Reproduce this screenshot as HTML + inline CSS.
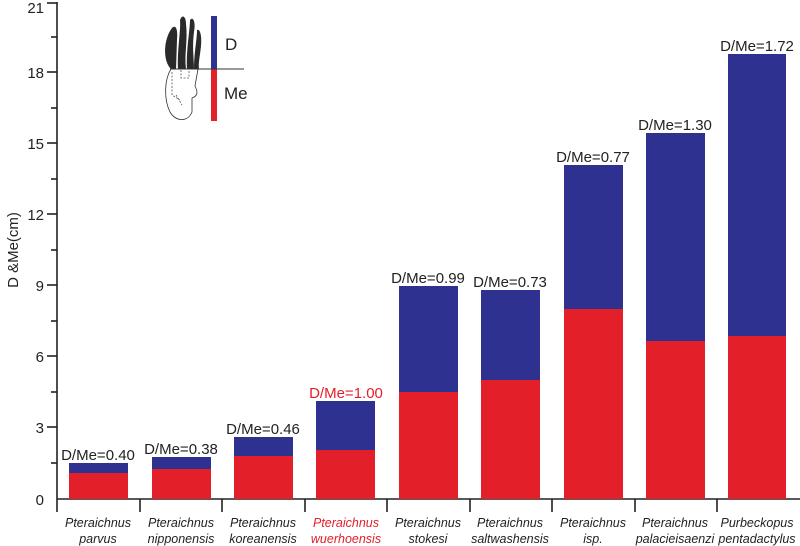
<!DOCTYPE html>
<html><head><style>body{margin:0;background:#fff}svg{display:block}</style></head><body>
<svg width="800" height="546" viewBox="0 0 800 546" xmlns="http://www.w3.org/2000/svg" font-family="Liberation Sans, Arial, sans-serif">
<rect width="800" height="546" fill="#fff"/>
<g stroke="#222" stroke-width="1.6" fill="none">
<line x1="57" y1="2" x2="57" y2="499"/>
<line x1="57" y1="499" x2="800" y2="499"/>
<line x1="47" y1="3" x2="57" y2="3"/><line x1="47" y1="72" x2="57" y2="72"/><line x1="47" y1="143" x2="57" y2="143"/><line x1="47" y1="214" x2="57" y2="214"/><line x1="47" y1="285" x2="57" y2="285"/><line x1="47" y1="356" x2="57" y2="356"/><line x1="47" y1="427" x2="57" y2="427"/>
<line x1="51" y1="37" x2="57" y2="37"/><line x1="51" y1="108" x2="57" y2="108"/><line x1="51" y1="179" x2="57" y2="179"/><line x1="51" y1="250" x2="57" y2="250"/><line x1="51" y1="321" x2="57" y2="321"/><line x1="51" y1="392" x2="57" y2="392"/><line x1="51" y1="463" x2="57" y2="463"/>
<line x1="57" y1="499" x2="57" y2="512"/><line x1="140" y1="499" x2="140" y2="512"/><line x1="222" y1="499" x2="222" y2="512"/><line x1="305" y1="499" x2="305" y2="512"/><line x1="387" y1="499" x2="387" y2="512"/><line x1="470" y1="499" x2="470" y2="512"/><line x1="552" y1="499" x2="552" y2="512"/><line x1="635" y1="499" x2="635" y2="512"/><line x1="717" y1="499" x2="717" y2="512"/>
</g>
<g font-size="15" fill="#222" text-anchor="end">
<text x="44" y="13">21</text><text x="44" y="78">18</text><text x="44" y="149">15</text><text x="44" y="220">12</text><text x="44" y="291">9</text><text x="44" y="362">6</text><text x="44" y="433">3</text><text x="44" y="505">0</text>
</g>
<text transform="translate(18,250) rotate(-90)" font-size="15" text-anchor="middle" fill="#222">D &amp;Me(cm)</text>
<g>
<rect x="69" y="463" width="59" height="10" fill="#2e3190"/><rect x="69" y="473" width="59" height="26" fill="#e3202a"/>
<rect x="152" y="457" width="59" height="12" fill="#2e3190"/><rect x="152" y="469" width="59" height="30" fill="#e3202a"/>
<rect x="234" y="437" width="59" height="19" fill="#2e3190"/><rect x="234" y="456" width="59" height="43" fill="#e3202a"/>
<rect x="316" y="401" width="59" height="49" fill="#2e3190"/><rect x="316" y="450" width="59" height="49" fill="#e3202a"/>
<rect x="399" y="286" width="59" height="106" fill="#2e3190"/><rect x="399" y="392" width="59" height="107" fill="#e3202a"/>
<rect x="481" y="290" width="59" height="90" fill="#2e3190"/><rect x="481" y="380" width="59" height="119" fill="#e3202a"/>
<rect x="564" y="165" width="59" height="144" fill="#2e3190"/><rect x="564" y="309" width="59" height="190" fill="#e3202a"/>
<rect x="646" y="133" width="59" height="208" fill="#2e3190"/><rect x="646" y="341" width="59" height="158" fill="#e3202a"/>
<rect x="728" y="54" width="58" height="282" fill="#2e3190"/><rect x="728" y="336" width="58" height="163" fill="#e3202a"/>
</g>
<g font-size="15" fill="#222" text-anchor="middle">
<text x="98" y="460">D/Me=0.40</text>
<text x="181" y="454">D/Me=0.38</text>
<text x="263" y="434">D/Me=0.46</text>
<text x="346" y="398" fill="#e3202a">D/Me=1.00</text>
<text x="428" y="283">D/Me=0.99</text>
<text x="510" y="287">D/Me=0.73</text>
<text x="593" y="162">D/Me=0.77</text>
<text x="675" y="130">D/Me=1.30</text>
<text x="757" y="51">D/Me=1.72</text>
</g>
<g font-size="12.5" font-style="italic" fill="#222" text-anchor="middle">
<text x="98" y="527">Pteraichnus</text><text x="98" y="543">parvus</text>
<text x="181" y="527">Pteraichnus</text><text x="181" y="543">nipponensis</text>
<text x="263" y="527">Pteraichnus</text><text x="263" y="543">koreanensis</text>
<text x="346" y="527" fill="#e3202a">Pteraichnus</text><text x="346" y="543" fill="#e3202a">wuerhoensis</text>
<text x="428" y="527">Pteraichnus</text><text x="428" y="543">stokesi</text>
<text x="510" y="527">Pteraichnus</text><text x="510" y="543">saltwashensis</text>
<text x="593" y="527">Pteraichnus</text><text x="593" y="543">isp.</text>
<text x="675" y="527">Pteraichnus</text><text x="675" y="543">palacieisaenzi</text>
<text x="757" y="527">Purbeckopus</text><text x="757" y="543">pentadactylus</text>
</g>
<path d="M171 69 C162 60 164 38 172 28 C176 24 178 30 177 40 L176 69 Z" fill="#2a2a2a"/>
<path d="M178 69 C177 50 181 30 180 20 C182 14 186 16 186 24 C188 40 184 55 186 69 Z" fill="#2a2a2a"/>
<path d="M187 69 C186 50 190 30 190 20 C193 16 196 22 194 32 C192 48 194 58 194 69 Z" fill="#2a2a2a"/>
<path d="M194 69 C194 52 197 40 197 30 C200 28 202 36 201 46 C200 56 198 64 199 69 Z" fill="#2a2a2a"/>
<path d="M171 69 C164 80 164 100 170 112 C176 122 188 122 192 112 L192 98 C198 96 198 92 195 86 L198 69" fill="none" stroke="#333" stroke-width="0.8"/>
<path d="M181 70 L181 78 L189 78 L189 70 M172 72 L172 95 L180 100 M176 95 L182 105" fill="none" stroke="#555" stroke-width="0.8" stroke-dasharray="2,1.5"/>
<rect x="211" y="16" width="6" height="53" fill="#2e3190"/>
<rect x="211" y="69" width="6" height="52" fill="#e3202a"/>
<line x1="170" y1="69" x2="244" y2="69" stroke="#333" stroke-width="1"/>
<text x="225" y="50" font-size="17" fill="#222">D</text>
<text x="224" y="99" font-size="17" fill="#222">Me</text>
</svg>
</body></html>
